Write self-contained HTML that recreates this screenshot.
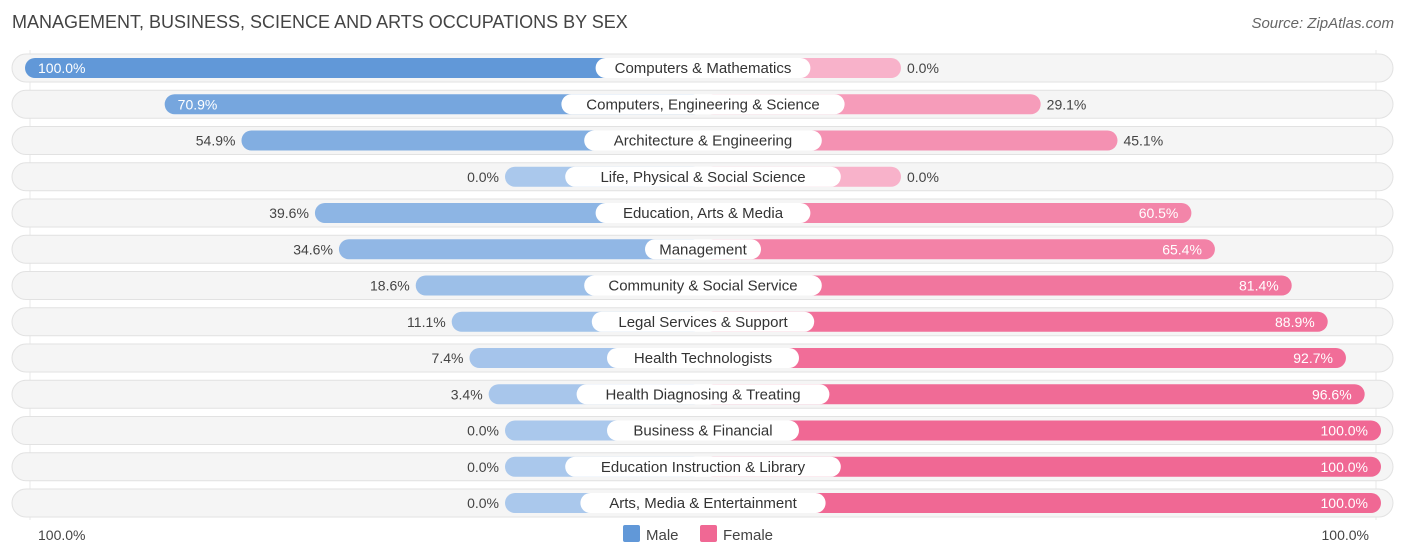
<!DOCTYPE html>
<html><head><meta charset="utf-8"><style>
body{margin:0;background:#fff;font-family:"Liberation Sans",Arial,sans-serif;}
svg{display:block}
</style></head><body>
<svg id="c" width="1406" height="559" xmlns="http://www.w3.org/2000/svg">
<text x="12" y="28" font-size="18" fill="#444">MANAGEMENT, BUSINESS, SCIENCE AND ARTS OCCUPATIONS BY SEX</text>
<text x="1394" y="28" font-size="15" fill="#666" font-style="italic" text-anchor="end">Source: ZipAtlas.com</text>
<line x1="30" y1="50" x2="30" y2="520" stroke="#e8e8e8"/>
<line x1="1376" y1="50" x2="1376" y2="520" stroke="#e8e8e8"/>
<g id="rows"></g>
<text x="38" y="540" font-size="14" fill="#444">100.0%</text>
<text x="1369" y="540" font-size="14" fill="#444" text-anchor="end">100.0%</text>
<g>
<rect x="623" y="525" width="17" height="17" rx="2" fill="#6198d8"/>
<text x="646" y="540" font-size="15" fill="#444">Male</text>
<rect x="700" y="525" width="17" height="17" rx="2" fill="#f06894"/>
<text x="723" y="540" font-size="15" fill="#444">Female</text>
</g>
</svg>
<script>
const categories=["Computers & Mathematics","Computers, Engineering & Science","Architecture & Engineering","Life, Physical & Social Science","Education, Arts & Media","Management","Community & Social Service","Legal Services & Support","Health Technologists","Health Diagnosing & Treating","Business & Financial","Education Instruction & Library","Arts, Media & Entertainment"];
const maleValues=[100.0,70.9,54.9,0.0,39.6,34.6,18.6,11.1,7.4,3.4,0.0,0.0,0.0];
const femaleValues=[0.0,29.1,45.1,0.0,60.5,65.4,81.4,88.9,92.7,96.6,100.0,100.0,100.0];
const NS="http://www.w3.org/2000/svg";
const cx=703, base=198, k=4.8, y0=68, step=36.25;
function len(v){return base+v*k;}
function mix(a,b,t){return 'rgb('+a.map((c,i)=>Math.round(c+(b[i]-c)*t)).join(',')+')';}
const g=document.getElementById('rows');
function el(tag,attrs,parent){const e=document.createElementNS(NS,tag);for(const a in attrs)e.setAttribute(a,attrs[a]);(parent||g).appendChild(e);return e;}
categories.forEach((cat,i)=>{
  const y=y0+i*step;
  const row=el('g',{});
  
  
  const bg=el('rect',{x:12,y:y-14,width:1381,height:28,rx:14,fill:'#f5f5f5',stroke:'#e2e2e2'},row);
  
  
  const m=maleValues[i], f=femaleValues[i];
  const ml=len(m), fl=len(f);
  const mb=el('rect',{x:cx-ml,y:y-10,width:ml,height:20,rx:10,fill:mix([170,200,236],[97,152,216],m/100)},row);
  
  
  const fb=el('rect',{x:cx,y:y-10,width:fl,height:20,rx:10,fill:mix([248,178,202],[240,104,148],f/100)},row);
  
  
  const tw=cat.length*7.6+40;
  const lb=el('rect',{x:cx-tw/2,y:y-10,width:tw,height:20,rx:10,fill:'#fff'},row);
  
  
  const lt=el('text',{x:cx,y:y+5,'font-size':15,fill:'#333','text-anchor':'middle'},row);
  lt.textContent=cat;
  
  
  const mIn=m>=60;
  const mt=el('text',{x:mIn?cx-ml+13:cx-ml-6,y:y+5,'font-size':14,fill:mIn?'#fff':'#444','text-anchor':mIn?'start':'end'},row);
  mt.textContent=m.toFixed(1)+'%';
  
  
  const fIn=f>=60;
  const ft=el('text',{x:fIn?cx+fl-13:cx+fl+6,y:y+5,'font-size':14,fill:fIn?'#fff':'#444','text-anchor':fIn?'end':'start'},row);
  ft.textContent=f.toFixed(1)+'%';
  
  
});
</script>
</body></html>
